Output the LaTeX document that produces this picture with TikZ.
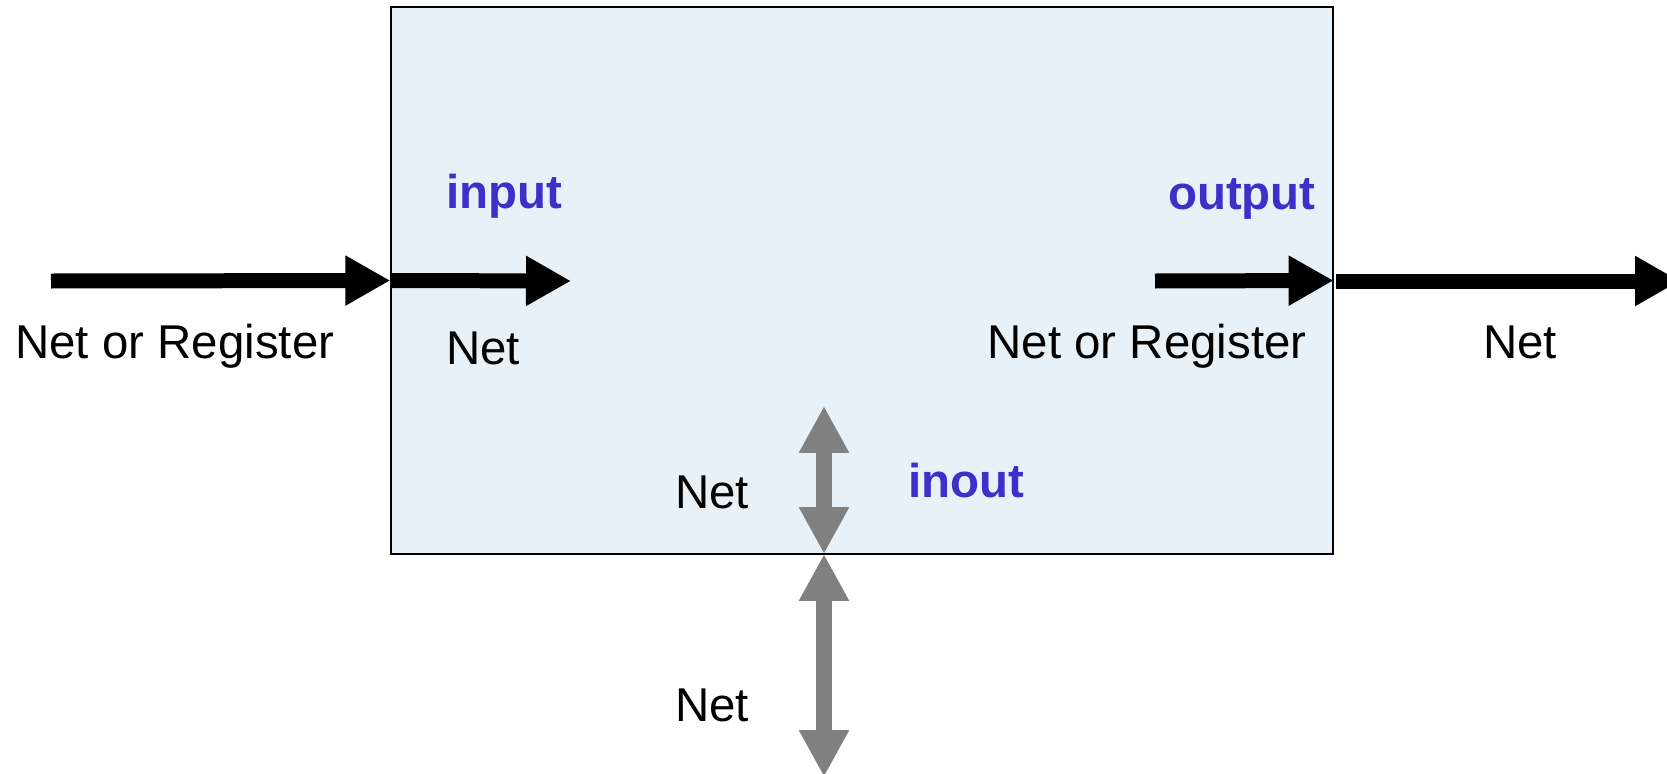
\documentclass[tikz,border=0pt]{standalone}
\usepackage{fontspec}
\setmainfont{Liberation Sans}
\usetikzlibrary{arrows.meta}

\definecolor{portblue}{RGB}{60,48,200}
\definecolor{modfill}{RGB}{232,240,248}
\definecolor{iogray}{RGB}{128,128,128}

\tikzset{
  wire/.style={line width=0.3cm, -{Triangle[length=0.9cm,width=0.94cm]}},
  biwire/.style={line width=0.32cm, iogray,
    {Triangle[length=0.94cm,width=0.94cm]}-{Triangle[length=0.94cm,width=0.94cm]}},
  lbl/.style={inner sep=0, font=\fontsize{27}{32}\selectfont},
  portlbl/.style={inner sep=0, text=portblue, font=\fontsize{27}{32}\selectfont\bfseries},
}

\begin{document}
\begin{tikzpicture}[x=0.02cm, y=-0.02cm]
        \useasboundingbox (0, 0) rectangle (1667, 774);

        % the module itself
        \node[draw, fill=modfill, line width=0.85pt, inner sep=0,
              minimum width=18.84cm, minimum height=10.94cm] (module) at (862, 280.5) {};

        \coordinate (src) at (51, 281);
        \coordinate (inEnd) at (571, 281);
        \coordinate (outBeg) at (1155, 281);
        \coordinate (drvBeg) at (1336, 281);
        \coordinate (sink) at (1680, 281);
        \coordinate (ioTop) at (824, 406);
        \coordinate (ioPin) at (824, 554);
        \coordinate (ioBot) at (824, 777);

        % input side
        \draw[wire] (src) -- (module.west);
        \draw[wire] (module.west) -- (inEnd);

        % output side
        \draw[wire] (outBeg) -- (module.east);
        \draw[wire] (drvBeg) -- (sink);

        % inout pin
        \draw[biwire] (ioTop) -- (ioPin);
        \draw[biwire] (ioPin) -- (ioBot);

        % port keywords
        \node[portlbl, anchor=base west] (kwIn) at (446, 208) {input};
        \node[portlbl, anchor=base east] (kwOut) at (1316, 209) {output};
        \node[portlbl, anchor=base west] (kwIo) at (908, 497) {inout};

        % data types
        \node[lbl, anchor=base west] (tyInOut) at (15, 358) {Net or Register};
        \node[lbl, anchor=base west] (tyInIn) at (446, 364) {Net};
        \node[lbl, anchor=base east] (tyOutIn) at (1307, 358) {Net or Register};
        \node[lbl, anchor=base west] (tyOutOut) at (1483, 358) {Net};
        \node[lbl, anchor=base west] (tyIoIn) at (675, 508) {Net};
        \node[lbl, anchor=base west] (tyIoOut) at (675, 721) {Net};
\end{tikzpicture}
\end{document}
